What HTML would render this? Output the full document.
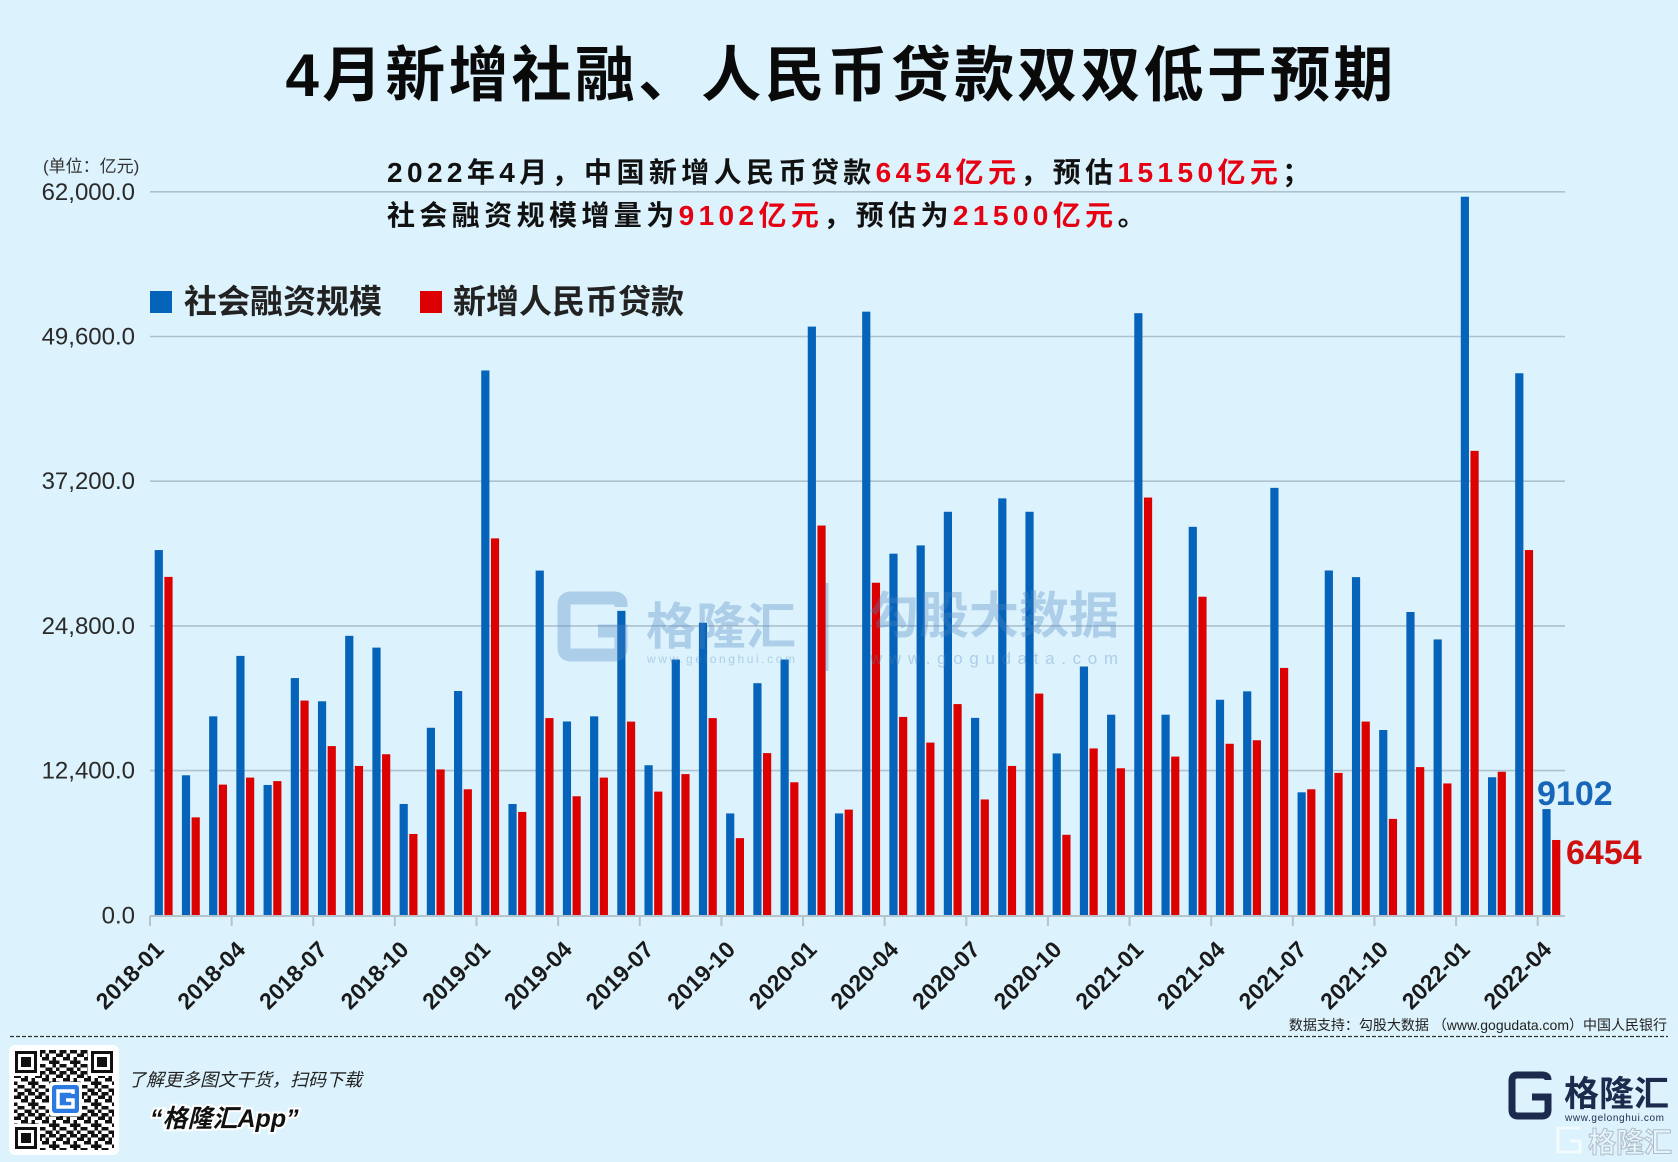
<!DOCTYPE html>
<html>
<head>
<meta charset="utf-8">
<style>
html,body{margin:0;padding:0;background:#dcf2fc;}
svg{display:block;}
text{font-family:"Liberation Sans","Noto Sans CJK SC",sans-serif;}
</style>
</head>
<body>
<svg width="1678" height="1162" viewBox="0 0 1678 1162" xmlns="http://www.w3.org/2000/svg">
<defs>
<pattern id="qr" width="21" height="21" patternUnits="userSpaceOnUse">
<g fill="#111">
<rect x="0" y="0" width="3.5" height="3.5"/><rect x="7" y="0" width="7" height="3.5"/><rect x="17.5" y="0" width="3.5" height="3.5"/>
<rect x="3.5" y="3.5" width="3.5" height="3.5"/><rect x="14" y="3.5" width="7" height="3.5"/>
<rect x="0" y="7" width="7" height="3.5"/><rect x="10.5" y="7" width="3.5" height="3.5"/>
<rect x="7" y="10.5" width="10.5" height="3.5"/>
<rect x="0" y="14" width="3.5" height="3.5"/><rect x="10.5" y="14" width="3.5" height="3.5"/><rect x="17.5" y="14" width="3.5" height="3.5"/>
<rect x="3.5" y="17.5" width="7" height="3.5"/><rect x="14" y="17.5" width="3.5" height="3.5"/>
</g>
</pattern>
</defs>

<rect x="0" y="0" width="1678" height="1162" fill="#dcf2fc"/>

<!-- Title -->
<text x="841" y="96" text-anchor="middle" font-size="60" font-weight="bold" letter-spacing="3.2" fill="#0a0a0a">4月新增社融、人民币贷款双双低于预期</text>

<!-- gridlines -->
<g stroke="#adc1ce" stroke-width="1.6">
<line x1="150" y1="191.8" x2="1565" y2="191.8"/>
<line x1="150" y1="336.5" x2="1565" y2="336.5"/>
<line x1="150" y1="481.2" x2="1565" y2="481.2"/>
<line x1="150" y1="625.9" x2="1565" y2="625.9"/>
<line x1="150" y1="770.6" x2="1565" y2="770.6"/>
</g>

<!-- subtitle -->
<text x="387" y="182" font-size="28" font-weight="bold" letter-spacing="4.4" fill="#111">2022年4月，中国新增人民币贷款<tspan fill="#e60012">6454亿元</tspan>，预估<tspan fill="#e60012">15150亿元</tspan>；</text>
<text x="387" y="225" font-size="28" font-weight="bold" letter-spacing="4.4" fill="#111">社会融资规模增量为<tspan fill="#e60012">9102亿元</tspan>，预估为<tspan fill="#e60012">21500亿元</tspan>。</text>

<!-- unit + y labels -->
<text x="43" y="172" font-size="17" fill="#333">(单位：亿元)</text>
<g font-size="24" fill="#2a2a2a" text-anchor="end">
<text x="135" y="200">62,000.0</text>
<text x="135" y="344.5">49,600.0</text>
<text x="135" y="489.2">37,200.0</text>
<text x="135" y="633.9">24,800.0</text>
<text x="135" y="778.6">12,400.0</text>
<text x="135" y="923.3">0.0</text>
</g>

<!-- legend -->
<rect x="150" y="291" width="22" height="22" fill="#0563b9"/>
<text x="184" y="313" font-size="33" font-weight="bold" fill="#222">社会融资规模</text>
<rect x="420" y="291" width="22" height="22" fill="#dc0000"/>
<text x="453" y="313" font-size="33" font-weight="bold" fill="#222">新增人民币贷款</text>

<!-- bars -->
<g transform="translate(150,915.3) scale(27.21,-0.011669)">
<g fill="#0563b9">
<rect x="0.173" width="0.301" height="31300"/>
<rect x="1.173" width="0.301" height="12000"/>
<rect x="2.173" width="0.301" height="17050"/>
<rect x="3.173" width="0.301" height="22230"/>
<rect x="4.173" width="0.301" height="11170"/>
<rect x="5.173" width="0.301" height="20330"/>
<rect x="6.173" width="0.301" height="18340"/>
<rect x="7.173" width="0.301" height="23950"/>
<rect x="8.173" width="0.301" height="22940"/>
<rect x="9.173" width="0.301" height="9540"/>
<rect x="10.173" width="0.301" height="16070"/>
<rect x="11.173" width="0.301" height="19220"/>
<rect x="12.173" width="0.301" height="46690"/>
<rect x="13.173" width="0.301" height="9540"/>
<rect x="14.173" width="0.301" height="29540"/>
<rect x="15.173" width="0.301" height="16610"/>
<rect x="16.173" width="0.301" height="17050"/>
<rect x="17.173" width="0.301" height="26090"/>
<rect x="18.173" width="0.301" height="12860"/>
<rect x="19.173" width="0.301" height="21920"/>
<rect x="20.173" width="0.301" height="25070"/>
<rect x="21.173" width="0.301" height="8730"/>
<rect x="22.173" width="0.301" height="19890"/>
<rect x="23.173" width="0.301" height="21920"/>
<rect x="24.173" width="0.301" height="50450"/>
<rect x="25.173" width="0.301" height="8730"/>
<rect x="26.173" width="0.301" height="51730"/>
<rect x="27.173" width="0.301" height="30990"/>
<rect x="28.173" width="0.301" height="31700"/>
<rect x="29.173" width="0.301" height="34580"/>
<rect x="30.173" width="0.301" height="16920"/>
<rect x="31.173" width="0.301" height="35730"/>
<rect x="32.173" width="0.301" height="34580"/>
<rect x="33.173" width="0.301" height="13870"/>
<rect x="34.173" width="0.301" height="21320"/>
<rect x="35.173" width="0.301" height="17190"/>
<rect x="36.173" width="0.301" height="51600"/>
<rect x="37.173" width="0.301" height="17190"/>
<rect x="38.173" width="0.301" height="33290"/>
<rect x="39.173" width="0.301" height="18470"/>
<rect x="40.173" width="0.301" height="19190"/>
<rect x="41.173" width="0.301" height="36630"/>
<rect x="42.173" width="0.301" height="10540"/>
<rect x="43.173" width="0.301" height="29550"/>
<rect x="44.173" width="0.301" height="28980"/>
<rect x="45.173" width="0.301" height="15880"/>
<rect x="46.173" width="0.301" height="25990"/>
<rect x="47.173" width="0.301" height="23640"/>
<rect x="48.173" width="0.301" height="61580"/>
<rect x="49.173" width="0.301" height="11830"/>
<rect x="50.173" width="0.301" height="46450"/>
<rect x="51.173" width="0.301" height="9102"/>
</g>
<g fill="#dc0000">
<rect x="0.529" width="0.301" height="29000"/>
<rect x="1.529" width="0.301" height="8393"/>
<rect x="2.529" width="0.301" height="11200"/>
<rect x="3.529" width="0.301" height="11800"/>
<rect x="4.529" width="0.301" height="11500"/>
<rect x="5.529" width="0.301" height="18400"/>
<rect x="6.529" width="0.301" height="14500"/>
<rect x="7.529" width="0.301" height="12800"/>
<rect x="8.529" width="0.301" height="13800"/>
<rect x="9.529" width="0.301" height="6970"/>
<rect x="10.529" width="0.301" height="12500"/>
<rect x="11.529" width="0.301" height="10800"/>
<rect x="12.529" width="0.301" height="32300"/>
<rect x="13.529" width="0.301" height="8858"/>
<rect x="14.529" width="0.301" height="16900"/>
<rect x="15.529" width="0.301" height="10200"/>
<rect x="16.529" width="0.301" height="11800"/>
<rect x="17.529" width="0.301" height="16600"/>
<rect x="18.529" width="0.301" height="10600"/>
<rect x="19.529" width="0.301" height="12100"/>
<rect x="20.529" width="0.301" height="16900"/>
<rect x="21.529" width="0.301" height="6613"/>
<rect x="22.529" width="0.301" height="13900"/>
<rect x="23.529" width="0.301" height="11400"/>
<rect x="24.529" width="0.301" height="33400"/>
<rect x="25.529" width="0.301" height="9057"/>
<rect x="26.529" width="0.301" height="28500"/>
<rect x="27.529" width="0.301" height="17000"/>
<rect x="28.529" width="0.301" height="14800"/>
<rect x="29.529" width="0.301" height="18100"/>
<rect x="30.529" width="0.301" height="9927"/>
<rect x="31.529" width="0.301" height="12800"/>
<rect x="32.529" width="0.301" height="19000"/>
<rect x="33.529" width="0.301" height="6898"/>
<rect x="34.529" width="0.301" height="14300"/>
<rect x="35.529" width="0.301" height="12600"/>
<rect x="36.529" width="0.301" height="35800"/>
<rect x="37.529" width="0.301" height="13600"/>
<rect x="38.529" width="0.301" height="27300"/>
<rect x="39.529" width="0.301" height="14700"/>
<rect x="40.529" width="0.301" height="15000"/>
<rect x="41.529" width="0.301" height="21200"/>
<rect x="42.529" width="0.301" height="10800"/>
<rect x="43.529" width="0.301" height="12200"/>
<rect x="44.529" width="0.301" height="16600"/>
<rect x="45.529" width="0.301" height="8262"/>
<rect x="46.529" width="0.301" height="12700"/>
<rect x="47.529" width="0.301" height="11300"/>
<rect x="48.529" width="0.301" height="39800"/>
<rect x="49.529" width="0.301" height="12300"/>
<rect x="50.529" width="0.301" height="31300"/>
<rect x="51.529" width="0.301" height="6454"/>
</g>
</g>

<!-- x axis -->
<line x1="150" y1="916" x2="1565" y2="916" stroke="#b5c3cc" stroke-width="2"/>
<path d="M150,916V926M231.63,916V926M313.26,916V926M394.89,916V926M476.52,916V926M558.15,916V926M639.78,916V926M721.41,916V926M803.04,916V926M884.67,916V926M966.3,916V926M1047.93,916V926M1129.56,916V926M1211.19,916V926M1292.82,916V926M1374.45,916V926M1456.08,916V926M1537.71,916V926" stroke="#b5c3cc" stroke-width="2" fill="none"/>

<g font-size="23" font-weight="bold" fill="#1a1a1a" text-anchor="end">
<text x="165.1" y="951" transform="rotate(-45 165.1 951)">2018-01</text>
<text x="246.7" y="951" transform="rotate(-45 246.7 951)">2018-04</text>
<text x="328.4" y="951" transform="rotate(-45 328.4 951)">2018-07</text>
<text x="410.0" y="951" transform="rotate(-45 410.0 951)">2018-10</text>
<text x="491.6" y="951" transform="rotate(-45 491.6 951)">2019-01</text>
<text x="573.3" y="951" transform="rotate(-45 573.3 951)">2019-04</text>
<text x="654.9" y="951" transform="rotate(-45 654.9 951)">2019-07</text>
<text x="736.5" y="951" transform="rotate(-45 736.5 951)">2019-10</text>
<text x="818.1" y="951" transform="rotate(-45 818.1 951)">2020-01</text>
<text x="899.8" y="951" transform="rotate(-45 899.8 951)">2020-04</text>
<text x="981.4" y="951" transform="rotate(-45 981.4 951)">2020-07</text>
<text x="1063.0" y="951" transform="rotate(-45 1063.0 951)">2020-10</text>
<text x="1144.7" y="951" transform="rotate(-45 1144.7 951)">2021-01</text>
<text x="1226.3" y="951" transform="rotate(-45 1226.3 951)">2021-04</text>
<text x="1307.9" y="951" transform="rotate(-45 1307.9 951)">2021-07</text>
<text x="1389.6" y="951" transform="rotate(-45 1389.6 951)">2021-10</text>
<text x="1471.2" y="951" transform="rotate(-45 1471.2 951)">2022-01</text>
<text x="1552.8" y="951" transform="rotate(-45 1552.8 951)">2022-04</text>
</g>

<!-- value labels -->
<text x="1537" y="805" font-size="34" font-weight="bold" fill="#1766b8">9102</text>
<text x="1566" y="864" font-size="34" font-weight="bold" fill="#d10f0f">6454</text>

<!-- center watermark -->
<g opacity="0.33">
<path d="M621,607 L621,604 Q621,598 614,598 L571,598 Q564,598 564,605 L564,648 Q564,655 571,655 L614,655 Q621,655 621,648 L621,631 L598,631" fill="none" stroke="#4f86c2" stroke-width="13"/>
<text x="646" y="644" font-size="50" font-weight="bold" fill="#4f86c2" letter-spacing="0">格隆汇</text>
<text x="647" y="663" font-size="12" fill="#4f86c2" textLength="148" lengthAdjust="spacing">www.gelonghui.com</text>
<line x1="827" y1="583" x2="827" y2="671" stroke="#4f86c2" stroke-width="3"/>
<text x="869" y="633" font-size="50" font-weight="bold" fill="#4f86c2" textLength="250" lengthAdjust="spacing">勾股大数据</text>
<text x="870" y="664" font-size="17" fill="#4f86c2" textLength="248" lengthAdjust="spacing">www.gogudata.com</text>
</g>

<!-- source -->
<text x="1667" y="1030" text-anchor="end" font-size="14" fill="#222">数据支持：勾股大数据 （www.gogudata.com）中国人民银行</text>
<line x1="10" y1="1036.5" x2="1668" y2="1036.5" stroke="#333" stroke-width="1.3" stroke-dasharray="4 2"/>

<!-- QR code -->
<rect x="9" y="1045" width="110" height="110" rx="6" fill="#fff"/>
<rect x="14" y="1050" width="100" height="100" fill="url(#qr)"/>
<g>
<rect x="14" y="1050" width="26" height="26" fill="#fff"/>
<rect x="15" y="1051" width="22" height="22" fill="#111"/>
<rect x="18" y="1054" width="16" height="16" fill="#fff"/>
<rect x="21" y="1057" width="10" height="10" fill="#111"/>
<rect x="88" y="1050" width="26" height="26" fill="#fff"/>
<rect x="91" y="1051" width="22" height="22" fill="#111"/>
<rect x="94" y="1054" width="16" height="16" fill="#fff"/>
<rect x="97" y="1057" width="10" height="10" fill="#111"/>
<rect x="14" y="1124" width="26" height="26" fill="#fff"/>
<rect x="15" y="1127" width="22" height="22" fill="#111"/>
<rect x="18" y="1130" width="16" height="16" fill="#fff"/>
<rect x="21" y="1133" width="10" height="10" fill="#111"/>
<rect x="49" y="1082" width="33" height="34" rx="3" fill="#fff"/>
<rect x="52" y="1085" width="27" height="28" rx="3" fill="#2a7ae2"/>
<path d="M73,1094 L73,1091 L58,1091 L58,1107 L73,1107 L73,1100 L66,1100" fill="none" stroke="#fff" stroke-width="3.5"/>
</g>

<!-- footer texts -->
<text x="128" y="1086" font-size="18" font-style="italic" fill="#222">了解更多图文干货，扫码下载</text>
<text x="150" y="1127" font-size="25" font-weight="bold" font-style="italic" fill="#111" stroke="#fff" stroke-width="4" paint-order="stroke">“格隆汇App”</text>

<!-- bottom-right logo -->
<path d="M1548,1080 Q1548,1075 1542,1075 L1517,1075 Q1512,1075 1512,1081 L1512,1110 Q1512,1116 1518,1116 L1542,1116 Q1548,1116 1548,1110 L1548,1097 L1532,1097" fill="none" stroke="#1c2b4d" stroke-width="7"/>
<text x="1564" y="1106" font-size="35" font-weight="bold" fill="#1c2b4d">格隆汇</text>
<text x="1565" y="1121" font-size="10" fill="#1c2b4d" textLength="99" lengthAdjust="spacing">www.gelonghui.com</text>
<g opacity="0.7">
<path d="M1580,1128 L1558,1128 L1558,1152 L1580,1152 L1580,1141 L1570,1141" fill="none" stroke="#fff" stroke-width="3"/>
<text x="1588" y="1152" font-size="28" font-weight="bold" fill="#eef6fb" stroke="#9aa8b4" stroke-width="1">格隆汇</text>
</g>
</svg>
</body>
</html>
